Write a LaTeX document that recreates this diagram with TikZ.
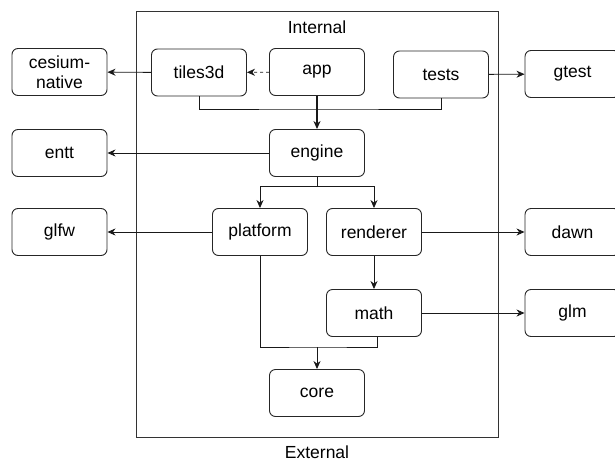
\documentclass[tikz,border=0pt]{standalone}
\usepackage{fontspec}
\setmainfont{Liberation Sans}
\usetikzlibrary{arrows.meta}

\tikzset{
	module/.style={draw=black!85,line width=0.9pt,rounded corners=6pt,minimum width=95pt,minimum height=47pt,
		align=center,font=\fontsize{17.5}{20}\selectfont,inner sep=2pt},
	dep/.style={-{Stealth[length=8pt,width=7pt,inset=2.5pt]},black!90,line width=0.9pt},
}

\begin{document}
\begin{tikzpicture}[x=1pt,y=-1pt]
	\useasboundingbox (0,0) rectangle (615,463);
	\draw[black!80,line width=0.9pt] (136,11) rectangle (498,437);
	\node[font=\fontsize{17.5}{20}\selectfont] (internal) at (317,27) {Internal};
	\node[font=\fontsize{17.5}{20}\selectfont] (external) at (317,452) {External};

	% internal modules
	\node[module] (tiles3d) at (199,72.5) {tiles3d};
	\node[module] (app) at (317,72) {app};
	\node[module] (tests) at (441,74.5) {tests};
	\node[module] (engine) at (317,153) {engine};
	\node[module] (platform) at (260,232) {platform};
	\node[module] (renderer) at (374,232) {renderer};
	\node[module] (math) at (374,313) {math};
	\node[module] (core) at (317,393) {core};

	% external libraries
	\node[module] (cesium) at (59.5,72) {cesium-\\native};
	\node[module] (entt) at (59.5,153) {entt};
	\node[module] (glfw) at (59.5,232) {glfw};
	\node[module] (gtest) at (572.5,74) {gtest};
	\node[module] (dawn) at (572.5,232) {dawn};
	\node[module] (glm) at (572.5,313) {glm};

	\coordinate (topjoin) at (317,109);
	\coordinate (fork) at (317,186);
	\coordinate (botjoin) at (317,347);

	\draw[dep,dash pattern=on 3pt off 3pt] (app) -- (tiles3d);
	\draw[dep] (tiles3d) -- (cesium);
	\draw[dep] (tests) -- (gtest);
	\draw[black!90,line width=0.9pt] (tiles3d.south) |- (topjoin) -| (tests.south);
	\draw[dep,line width=1.2pt] (app) -- (engine);
	\draw[dep] (engine) -- (entt);
	\draw[black!90,line width=0.9pt] (engine.south) -- (fork);
	\draw[dep] (fork) -| (platform.north);
	\draw[dep] (fork) -| (renderer.north);
	\draw[dep] (platform) -- (glfw);
	\draw[dep] (renderer) -- (dawn);
	\draw[dep] (renderer) -- (math);
	\draw[dep] (math) -- (glm);
	\draw[black!90,line width=0.9pt] (platform.south) |- (botjoin) -| ([xshift=3pt]math.south);
	\draw[dep] (botjoin) -- (core);
\end{tikzpicture}
\end{document}
